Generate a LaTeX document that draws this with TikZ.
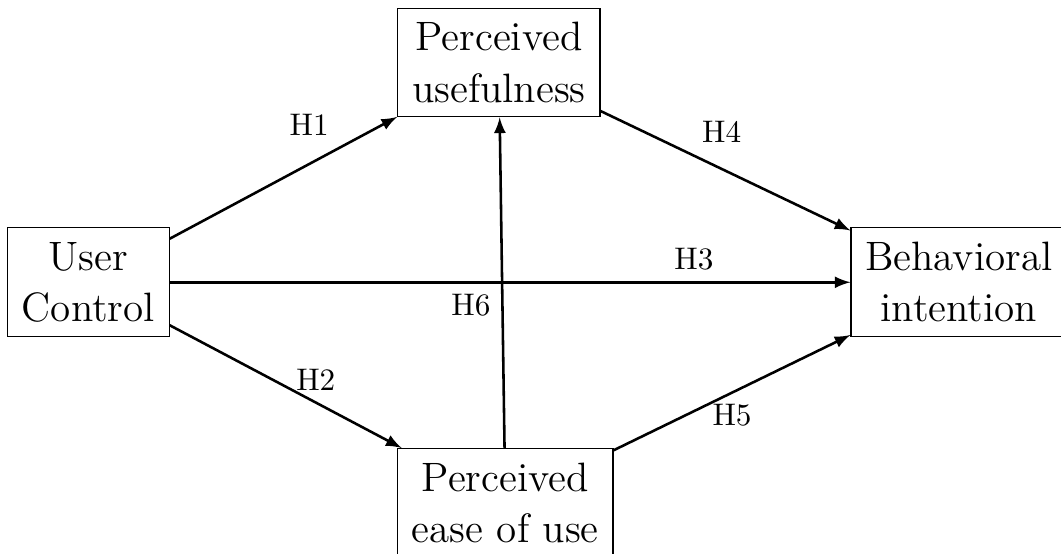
\documentclass[tikz,border=0pt,11pt]{standalone}
\begin{document}
\begin{tikzpicture}[construct/.style={draw, align=center, font=\Large, inner sep=5pt}]
    \useasboundingbox (-1.09,-3.34) rectangle (11.99,3.48);

    \node[construct] (0) at (0,0) {User\\Control};
    \node[construct] (1) at (5.06,2.71) {Perceived\\usefulness};
    \node[construct] (2) at (5.14,-2.72) {Perceived\\ease of use};
    \node[construct] (3) at (10.73,0) {Behavioral\\intention};

    \draw[->, >=latex, line width=0.9pt] (0) edge node[pos=0.75, above left] {H1} (1);
    \draw[->, >=latex, line width=0.9pt] (0) edge node[pos=0.63, above] {H2} (2);
    \draw[->, >=latex, line width=0.9pt] (0) edge node[pos=0.77, above] {H3} (3);
    \draw[->, >=latex, line width=0.9pt] (1) edge node[pos=0.36, above right] {H4} (3);
    \draw[->, >=latex, line width=0.9pt] (2) edge node[midway, below] {H5} (3);
    \draw[->, >=latex, line width=0.9pt] (2) edge node[midway, below left] {H6} (1);
\end{tikzpicture}
\end{document}
